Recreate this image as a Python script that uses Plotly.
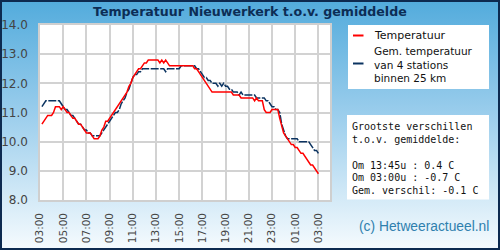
import base64
import pandas as pd
import plotly.graph_objects as go

# ---------------- data (10-minute readings, 03:10 -> 03:00 next day) ----------------
start_time = "2024-05-01 03:10"
n_points = 144
temperatuur = [
    10.6, 10.7, 10.8, 10.9, 10.9, 10.9,
    11.0, 11.2, 11.2, 11.2, 11.1, 11.2,
    11.1, 11.0, 11.0, 10.9, 10.8, 10.8,
    10.7, 10.6, 10.6, 10.5, 10.4, 10.3,
    10.3, 10.3, 10.2, 10.1, 10.1, 10.1,
    10.2, 10.4, 10.5, 10.7, 10.7, 10.8,
    10.9, 11.0, 11.1, 11.2, 11.3, 11.4,
    11.5, 11.6, 11.7, 11.9, 12.0, 12.2,
    12.3, 12.4, 12.5, 12.5, 12.6, 12.7,
    12.7, 12.8, 12.8, 12.8, 12.8, 12.8,
    12.8, 12.7, 12.8, 12.7, 12.8, 12.7,
    12.6, 12.6, 12.6, 12.6, 12.6, 12.6,
    12.6, 12.6, 12.6, 12.6, 12.6, 12.6,
    12.6, 12.5, 12.5, 12.4, 12.3, 12.2,
    12.1, 12.0, 11.9, 11.8, 11.7, 11.7,
    11.7, 11.7, 11.7, 11.7, 11.7, 11.7,
    11.7, 11.7, 11.7, 11.6, 11.6, 11.6,
    11.6, 11.5, 11.5, 11.5, 11.5, 11.5,
    11.5, 11.5, 11.4, 11.5, 11.4, 11.4,
    11.4, 11.1, 11.0, 11.0, 11.0, 11.1,
    11.1, 11.1, 11.1, 10.8, 10.5, 10.3,
    10.2, 10.1, 10.0, 9.9, 9.9, 9.8,
    9.8, 9.7, 9.6, 9.6, 9.5, 9.4,
    9.3, 9.2, 9.2, 9.1, 9.0, 8.9,
]
gemiddelde = [
    11.2, 11.3, 11.4, 11.4, 11.4, 11.4,
    11.4, 11.4, 11.4, 11.4, 11.3, 11.2,
    11.1, 11.1, 11.0, 10.9, 10.9, 10.8,
    10.7, 10.6, 10.6, 10.5, 10.4, 10.4,
    10.3, 10.3, 10.2, 10.2, 10.2, 10.2,
    10.2, 10.3, 10.4, 10.5, 10.6, 10.7,
    10.8, 10.9, 11.0, 11.0, 11.1, 11.3,
    11.4, 11.5, 11.7, 11.8, 12.0, 12.2,
    12.3, 12.3, 12.4, 12.4, 12.5, 12.5,
    12.5, 12.5, 12.5, 12.5, 12.5, 12.5,
    12.5, 12.5, 12.5, 12.5, 12.4, 12.5,
    12.5, 12.5, 12.5, 12.5, 12.5, 12.5,
    12.6, 12.6, 12.6, 12.6, 12.6, 12.6,
    12.6, 12.6, 12.5, 12.5, 12.4, 12.3,
    12.2, 12.2, 12.1, 12.1, 12.0, 12.0,
    12.0, 11.9, 12.0, 11.9, 12.0, 11.9,
    11.9, 11.8, 11.8, 11.7, 11.7, 11.7,
    11.6, 11.7, 11.6, 11.6, 11.6, 11.6,
    11.6, 11.6, 11.6, 11.5, 11.5, 11.5,
    11.5, 11.5, 11.4, 11.4, 11.3, 11.2,
    11.2, 11.1, 11.1, 11.0, 10.6, 10.4,
    10.2, 10.1, 10.1, 10.1, 10.1, 10.1,
    10.1, 10.0, 10.0, 10.0, 10.0, 10.0,
    10.0, 9.9, 9.8, 9.7, 9.7, 9.6,
]
x_range = ["2024-05-01 03:00", "2024-05-02 04:00"]
y_range = [8, 14]
title_text = "Temperatuur Nieuwerkerk t.o.v. gemiddelde"
legend_labels = ["Temperatuur", "Gem. temperatuur<br>van 4 stations<br>binnen 25 km"]
info_lines = [
    "Grootste verschillen",
    "t.o.v. gemiddelde:",
    "",
    "Om 13:45u : 0.4 C",
    "Om 03:00u : -0.7 C",
    "Gem. verschil: -0.1 C",
]
credit = "(c) Hetweeractueel.nl"

times = pd.date_range(start_time, periods=n_points, freq="10min")

# ---------------- layout helpers ----------------
W, H = 500, 250
L, R, T, B = 40, 330, 25, 200


def px_x(px):
    return (px - L) / (R - L)


def px_y(py):
    return (B - py) / (B - T)


RED = "#ff0000"
NAVY = "#0b3360"

fig = go.Figure()
fig.add_trace(go.Scatter(x=times, y=gemiddelde, mode="lines", name="Gem.",
                         line=dict(color=NAVY, width=1.5, dash="8px,1.5px"),
                         showlegend=False, hoverinfo="skip"))
fig.add_trace(go.Scatter(x=times, y=temperatuur, mode="lines", name="Temperatuur",
                         line=dict(color=RED, width=1.5),
                         showlegend=False, hoverinfo="skip"))

# gradient background as an svg image
svg = (
    '<svg xmlns="http://www.w3.org/2000/svg" width="500" height="250">'
    '<defs><linearGradient id="g" x1="0" y1="0" x2="0" y2="1">'
    '<stop offset="0" stop-color="#52abdc"/>'
    '<stop offset="0.45" stop-color="#9acdec"/>'
    '<stop offset="1" stop-color="#f6fbfe"/>'
    '</linearGradient></defs>'
    '<rect width="500" height="250" fill="url(#g)"/></svg>'
)
src = "data:image/svg+xml;base64," + base64.b64encode(svg.encode()).decode()
fig.add_layout_image(dict(source=src, xref="paper", yref="paper",
                          x=px_x(0), y=px_y(0), sizex=px_x(W) - px_x(0),
                          sizey=px_y(0) - px_y(H), xanchor="left", yanchor="top",
                          sizing="stretch", layer="below"))

shapes = [
    dict(type="rect", xref="paper", yref="paper", x0=0, x1=1, y0=0, y1=1,
         fillcolor="white", line=dict(width=0), layer="below"),
    dict(type="rect", xref="paper", yref="paper", x0=px_x(348), x1=px_x(489),
         y0=px_y(25), y1=px_y(89), fillcolor="white", line=dict(width=0), layer="below"),
    dict(type="rect", xref="paper", yref="paper", x0=px_x(347), x1=px_x(489),
         y0=px_y(115), y1=px_y(199.5), fillcolor="white", line=dict(width=0), layer="below"),
    dict(type="line", xref="paper", yref="paper", x0=px_x(353), x1=px_x(363.5),
         y0=px_y(35.5), y1=px_y(35.5), line=dict(color=RED, width=2)),
    dict(type="line", xref="paper", yref="paper", x0=px_x(353), x1=px_x(363.5),
         y0=px_y(63.5), y1=px_y(63.5), line=dict(color=NAVY, width=2)),
    dict(type="rect", xref="paper", yref="paper", x0=px_x(1), x1=px_x(499),
         y0=px_y(1), y1=px_y(249), line=dict(color="#0d2a50", width=2)),
]

annotations = [
    dict(text="<b>" + title_text + "</b>", x=px_x(250), y=px_y(11.5), xref="paper", yref="paper",
         xanchor="center", yanchor="middle", showarrow=False,
         font=dict(family="DejaVu Sans", size=12.6, color="#0c2d55")),
    dict(text=credit, x=px_x(423.5), y=px_y(226), xref="paper", yref="paper",
         xanchor="center", yanchor="middle", showarrow=False,
         font=dict(family="Liberation Sans", size=13.8, color="#2f80ae")),
    dict(text=legend_labels[0], x=px_x(372), y=px_y(35), xref="paper", yref="paper",
         xanchor="left", yanchor="middle", showarrow=False,
         font=dict(family="DejaVu Sans", size=11, color="#111111")),
    dict(text=legend_labels[1], x=px_x(372), y=px_y(64.5), xref="paper", yref="paper",
         xanchor="left", yanchor="middle", showarrow=False, align="left",
         font=dict(family="DejaVu Sans", size=10.5, color="#111111")),
]
info_y0 = 126.7
info_step = 12.8
for i, line in enumerate(info_lines):
    if not line:
        continue
    annotations.append(dict(text=line, x=px_x(349.5), y=px_y(info_y0 + i * info_step),
                            xref="paper", yref="paper", xanchor="left", yanchor="middle",
                            showarrow=False,
                            font=dict(family="DejaVu Sans Mono", size=10, color="#111111")))

fig.update_layout(
    width=W, height=H,
    margin=dict(l=L, r=W - R, t=T, b=H - B, pad=0),
    paper_bgcolor="rgba(0,0,0,0)",
    plot_bgcolor="white",
    shapes=shapes,
    annotations=annotations,
    showlegend=False,
    font=dict(family="DejaVu Sans", size=11, color="#444444"),
)
fig.update_xaxes(
    type="date", range=x_range, tickformat="%H:%M", dtick=7200000,
    tick0="2024-05-01 03:00", tickangle=-90, showgrid=True, gridcolor="#d2d2d2",
    gridwidth=1.5, showline=True, linecolor="#cfcfcf", linewidth=1.5, mirror=True,
    ticks="", ticklabelstandoff=7, tickfont=dict(size=10.5, color="#444444"),
    zeroline=False, automargin=False,
)
fig.update_yaxes(
    range=y_range, dtick=1, tickformat=".1f", showgrid=True, gridcolor="#d2d2d2",
    gridwidth=1.5, showline=True, linecolor="#cfcfcf", linewidth=1.5, mirror=True,
    ticks="", ticklabelstandoff=8, tickfont=dict(size=12, color="#444444"),
    zeroline=False, automargin=False,
)

fig.write_html("out.html")
